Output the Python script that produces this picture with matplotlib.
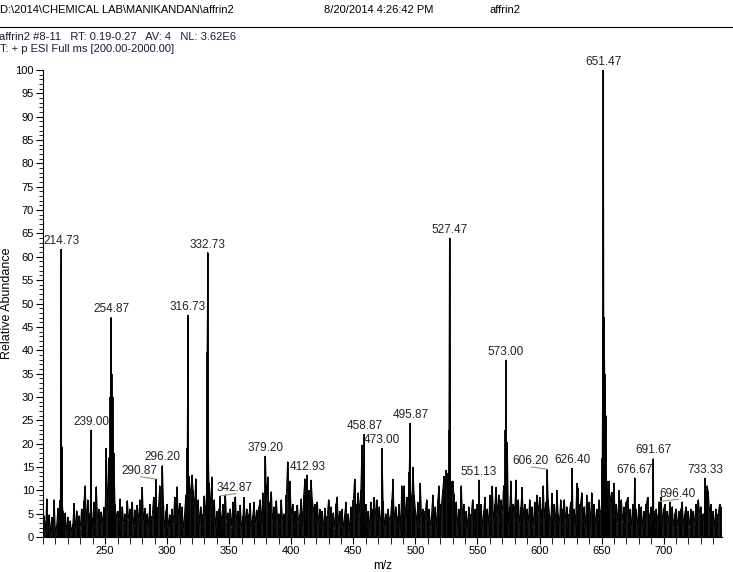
import numpy as np
import matplotlib
matplotlib.use("Agg")
import matplotlib.pyplot as plt
from matplotlib.ticker import MultipleLocator, FixedLocator

plt.rcParams['font.family'] = ['Liberation Sans', 'DejaVu Sans']

# labelled peaks (m/z, relative abundance)
peak_mz = [214.73, 239.00, 254.87, 290.87, 296.20, 316.73, 332.73, 342.87, 379.20,
           412.93, 458.87, 473.00, 495.87, 527.47, 551.13, 573.00, 606.20, 626.40,
           651.47, 676.67, 691.67, 696.40, 733.33]
peak_int = [61.6, 22.9, 47.0, 12.4, 15.3, 47.5, 60.9, 8.8, 17.3,
            13.3, 22.0, 19.0, 24.4, 64.0, 12.2, 37.9, 14.5, 14.7,
            100.0, 12.7, 16.8, 7.6, 12.6]

# unlabelled points on the flanks of the big peaks
shoulder_mz = [213.9, 214.3, 215.2, 215.6, 253.6, 254.3, 254.6, 255.3, 256.1, 256.6,
               316.2, 317.3, 332.2, 333.3, 333.8, 526.4, 527.0, 527.9, 528.4,
               572.5, 573.5, 574.1, 650.5, 651.0, 652.0, 652.5, 653.0, 653.6, 654.2]
shoulder_int = [8.0, 31.6, 19.3, 7.0, 17.0, 30.0, 42.0, 35.0, 30.0, 18.0,
                19.0, 13.0, 39.7, 16.5, 10.0, 13.7, 23.0, 28.7, 12.0,
                23.0, 20.4, 19.3, 17.0, 45.0, 47.0, 35.0, 31.0, 26.0, 12.0]

# baseline noise, one value per m/z from 201 to 748
noise_int = [
    4.5, 1.2, 8.2, 2.0, 4.8, 0.7, 4.2, 1.5, 8.0, 0.9,
    2.6, 6.2, 3.0, 7.5, 1.5, 5.6, 0.8, 5.2, 1.1, 4.3,
    0.6, 3.5, 1.0, 2.8, 7.2, 1.4, 5.6, 2.2, 4.6, 1.8,
    6.0, 2.4, 7.8, 11.0, 3.0, 8.0, 2.5, 5.2, 1.5, 4.0,
    7.5, 2.0, 10.8, 3.2, 6.0, 1.8, 5.4, 2.8, 6.4, 4.5,
    19.0, 5.0, 17.0, 8.0, 9.5, 6.0, 18.0, 7.0, 4.0, 5.5,
    3.0, 8.2, 1.5, 6.5, 2.8, 5.0, 1.2, 7.8, 3.5, 6.0,
    1.8, 7.5, 2.2, 5.8, 1.0, 6.8, 3.0, 8.0, 2.0, 10.6,
    3.5, 6.2, 1.5, 5.0, 2.5, 7.0, 1.8, 4.5, 8.5, 3.0,
    9.0, 2.5, 6.5, 11.0, 3.5, 4.0, 7.8, 1.5, 5.5, 7.0,
    2.0, 4.8, 1.2, 6.0, 2.6, 8.5, 3.0, 10.8, 4.0, 7.2,
    2.2, 6.5, 1.5, 5.0, 9.0, 4.0, 3.0, 12.0, 8.5, 13.3,
    10.0, 6.0, 12.5, 4.5, 8.0, 3.0, 6.5, 2.0, 5.0, 8.8,
    4.0, 12.0, 9.0, 11.5, 6.0, 12.9, 3.5, 8.0, 2.2, 5.5,
    1.5, 6.0, 2.5, 4.5, 7.0, 1.8, 9.0, 3.0, 5.2, 1.5,
    6.0, 2.0, 7.5, 1.2, 8.6, 3.0, 5.5, 2.0, 6.8, 1.5,
    4.5, 8.5, 2.5, 6.0, 1.5, 5.0, 7.2, 2.0, 4.5, 7.5,
    2.5, 5.8, 3.5, 6.5, 8.0, 3.0, 9.5, 4.0, 6.0, 8.5,
    12.9, 5.0, 7.5, 9.7, 3.0, 6.5, 2.0, 7.8, 4.0, 5.0,
    2.0, 8.0, 3.5, 5.0, 1.5, 9.0, 16.1, 10.0, 12.0, 4.5,
    7.0, 2.0, 5.5, 1.8, 6.8, 3.0, 5.0, 8.2, 2.5, 9.0,
    12.5, 4.0, 6.0, 10.0, 3.5, 12.2, 8.0, 5.5, 7.0, 2.5,
    7.5, 3.0, 6.0, 2.0, 5.5, 1.5, 6.2, 3.0, 4.5, 8.0,
    2.0, 6.5, 3.5, 5.2, 1.8, 7.0, 8.6, 3.0, 5.5, 2.0,
    6.0, 1.5, 4.8, 7.5, 2.2, 5.0, 1.2, 6.5, 3.0, 8.0,
    12.4, 4.0, 7.0, 9.5, 5.0, 10.0, 19.7, 6.0, 3.5, 7.0,
    2.0, 5.5, 1.5, 7.5, 3.0, 6.0, 8.5, 4.0, 8.0, 2.5,
    6.5, 3.0, 5.5, 7.8, 2.0, 5.0, 1.5, 6.0, 3.5, 4.5,
    8.0, 12.4, 3.0, 6.5, 2.0, 4.5, 7.0, 1.5, 11.0, 5.0,
    11.0, 4.0, 8.5, 6.0, 14.0, 10.0, 7.0, 14.9, 9.0, 6.0,
    3.0, 7.5, 2.0, 11.5, 4.0, 6.0, 1.8, 5.5, 8.0, 3.0,
    6.0, 2.0, 5.0, 9.0, 3.0, 6.5, 2.0, 8.0, 11.0, 4.5,
    7.0, 10.0, 13.0, 10.0, 14.3, 9.0, 6.0, 8.0, 10.0, 12.0,
    9.3, 4.0, 7.5, 2.5, 6.0, 3.0, 11.0, 4.5, 7.0, 2.0,
    5.5, 1.8, 6.5, 3.0, 5.0, 8.0, 2.5, 6.0, 1.5, 7.0,
    5.0, 3.0, 7.0, 2.0, 5.5, 8.5, 3.5, 6.0, 2.5, 9.0,
    4.0, 10.9, 3.0, 7.0, 10.6, 4.5, 9.0, 3.0, 8.0, 5.0,
    11.0, 6.0, 4.0, 8.0, 3.0, 6.5, 12.0, 4.0, 7.0, 5.5,
    12.2, 3.0, 8.0, 2.5, 6.5, 10.6, 4.0, 7.0, 2.0, 6.0,
    3.0, 8.0, 4.5, 6.5, 2.0, 7.5, 3.5, 9.0, 5.0, 8.5,
    3.0, 6.0, 11.0, 4.0, 7.5, 2.5, 8.0, 5.0, 3.0, 9.4,
    4.0, 7.0, 2.5, 10.0, 5.0, 3.0, 8.0, 2.0, 6.0, 8.0,
    3.5, 6.5, 2.0, 5.0, 7.5, 4.0, 3.0, 6.0, 2.5, 11.5,
    10.4, 4.0, 7.0, 9.5, 3.0, 6.5, 2.0, 9.0, 5.0, 7.5,
    3.0, 9.5, 5.0, 7.0, 2.5, 6.0, 3.5, 8.0, 5.0, 6.0,
    5.0, 8.0, 9.0, 7.0, 6.0, 12.0, 7.0, 9.6, 4.0, 11.5,
    4.0, 7.0, 2.5, 10.0, 5.0, 8.0, 3.0, 6.5, 2.0, 7.5,
    8.5, 3.0, 6.0, 2.0, 7.0, 4.0, 3.5, 6.0, 2.0, 7.0,
    4.5, 6.5, 2.0, 5.5, 3.0, 7.0, 8.5, 2.5, 5.0, 6.5,
    3.0, 5.5, 2.0, 6.0, 4.0, 5.0, 5.0, 8.6, 3.0, 6.0,
    7.0, 2.5, 5.5, 3.0, 7.5, 4.0, 6.5, 2.0, 5.0, 6.0,
    2.0, 5.5, 3.0, 6.0, 7.5, 2.5, 5.0, 6.5, 3.0, 5.5,
    2.0, 6.0, 4.0, 5.5, 2.5, 7.0, 3.5, 8.0, 5.0, 6.5,
    2.5, 5.0, 4.0, 6.0, 11.0, 9.7, 5.0, 7.0, 3.0, 5.5,
    2.0, 6.0, 3.5, 5.0, 7.0, 2.5, 6.5, 4.0,
]
noise_mz = np.arange(201, 201 + len(noise_int))

# labels that sit beside their peak, with a leader line (label centre m/z)
offset_labels = {290.87: 277.5, 342.87: 354.5, 606.20: 592.5, 696.40: 711.0}

mz = np.concatenate([noise_mz, shoulder_mz, peak_mz])
inten = np.concatenate([noise_int, shoulder_int, peak_int])
order = np.argsort(mz)
mz, inten = mz[order], inten[order]

fig = plt.figure(figsize=(7.33, 5.72), dpi=100)
ax = fig.add_axes([0.0587, 0.0612, 0.9263, 0.8164])

ax.vlines(mz, 0, inten, color='black', lw=1.3)
ax.plot(mz, inten, color='black', lw=0.7)

for m, v in zip(peak_mz, peak_int):
    txt = '%.2f' % m
    if m in offset_labels:
        lx = offset_labels[m]
        ax.text(lx, v + 0.4, txt, ha='center', va='bottom', fontsize=8.5, color='#222222')
        ax.plot([lx + 1, m], [v + 0.5, v], color='#7fa56e', lw=0.8, clip_on=False)
    else:
        ax.annotate(txt, (m, v), xytext=(0, 1.5), textcoords='offset points',
                    ha='center', va='bottom', fontsize=8.5, color='#222222',
                    annotation_clip=False)

ax.set_xlim(200, 747)
ax.set_ylim(0, 100)
ax.xaxis.set_major_locator(FixedLocator([250, 300, 350, 400, 450, 500, 550, 600, 650, 700]))
ax.xaxis.set_minor_locator(MultipleLocator(10))
ax.yaxis.set_major_locator(MultipleLocator(5))
ax.yaxis.set_minor_locator(MultipleLocator(1))
ax.tick_params(axis='both', which='major', length=5, width=0.8, labelsize=8, pad=1.5)
ax.tick_params(axis='both', which='minor', length=3, width=0.6)
ax.tick_params(axis='x', which='minor', length=5)
for s in ['top', 'right']:
    ax.spines[s].set_visible(False)
ax.spines['left'].set_linewidth(0.8)
ax.spines['bottom'].set_linewidth(0.8)
ax.set_xlabel('m/z', fontsize=8.5, labelpad=3)
ax.set_ylabel('Relative Abundance', fontsize=9, labelpad=2)

# header lines
fig.text(0.0, 1 - 10 / 572, r'D:\2014\CHEMICAL LAB\MANIKANDAN\affrin2', fontsize=8, va='center')
fig.text(324 / 733, 1 - 10 / 572, '8/20/2014 4:26:42 PM', fontsize=8, va='center')
fig.text(490 / 733, 1 - 10 / 572, 'affrin2', fontsize=8, va='center')
fig.add_artist(plt.Line2D([0, 1], [1 - 27 / 572, 1 - 27 / 572], color='black', lw=0.8))
fig.text(-0.002, 1 - 37 / 572, 'affrin2 #8-11   RT: 0.19-0.27   AV: 4   NL: 3.62E6',
         fontsize=8, va='center', color='#1a1a3a')
fig.text(0.0, 1 - 49 / 572, 'T: + p ESI Full ms [200.00-2000.00]', fontsize=8, va='center',
         color='#1a1a3a')

plt.savefig('out.png', dpi=100)
